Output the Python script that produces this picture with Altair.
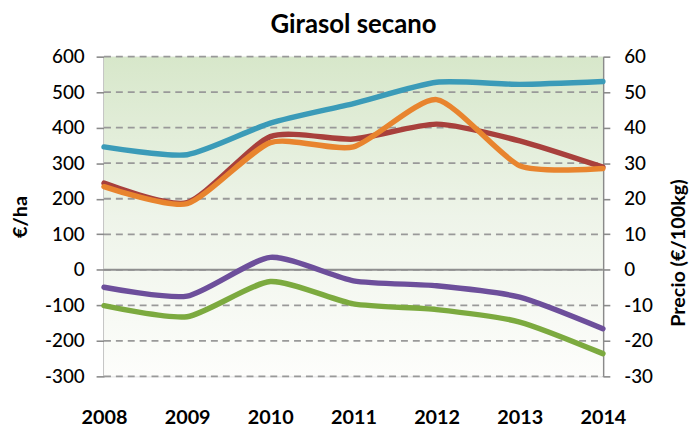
import altair as alt
import pandas as pd

years = [2008, 2009, 2010, 2011, 2012, 2013, 2014]
blue = [346, 324, 413, 468, 528, 522, 530]
red = [244, 189, 375, 368, 410, 363, 289]
orange = [234, 186, 358, 346, 479, 293, 285]
purple = [-49, -74, 35, -31, -45, -77, -166]
green = [-101, -132, -33, -96, -112, -147, -236]

series_names = ["azul", "rojo", "naranja", "morado", "verde"]
series_values = [blue, red, orange, purple, green]
series_colors = ["#3b9bb8", "#a8403c", "#e8842e", "#6d4f9b", "#7caa3f"]

left_ticks = [-300, -200, -100, 0, 100, 200, 300, 400, 500, 600]
right_ticks = [-30, -20, -10, 0, 10, 20, 30, 40, 50, 60]

W, H = 504, 323
FONT = "Lato"
MINUS = "replace(datum.label, '\u2212', '-')"

rows = []
for name, vals in zip(series_names, series_values):
    for y, v in zip(years, vals):
        rows.append({"serie": name, "year": y, "value": v})
df = pd.DataFrame(rows)

xscale = alt.Scale(domain=[2008, 2014], nice=False, zero=False)
yscale = alt.Scale(domain=[-300, 600], nice=False)

left_axis = alt.Axis(values=left_ticks, title="€/ha", grid=False,
                     domainColor="#8a8a8a", domainWidth=2,
                     tickColor="#8a8a8a", tickWidth=1.6, tickSize=8,
                     labelFont=FONT, labelFontSize=19, labelColor="#000",
                     labelFontWeight=500, labelPadding=12,
                     labelOverlap=False, labelFlush=False,
                     labelExpr=MINUS,
                     titleFont=FONT, titleFontSize=20,
                     titleFontWeight="bold", titleColor="#000",
                     titleAngle=270, titleBaseline="middle",
                     titleX=-84, titleY=H / 2)

bg = alt.Chart(pd.DataFrame({"a": [0]})).mark_rect(
    fill=alt.LinearGradient(
        gradient="linear",
        stops=[alt.GradientStop(color="#d7e7ca", offset=0),
               alt.GradientStop(color="#eef4e9", offset=0.5),
               alt.GradientStop(color="#fdfdfb", offset=1)],
        x1=0, x2=0, y1=0, y2=1,
    )
).encode(x=alt.value(0), x2=alt.value(W), y=alt.value(0), y2=alt.value(H))

grid = alt.Chart(pd.DataFrame({"value": left_ticks})).mark_rule(
    color="#999999", strokeWidth=1.8, strokeDash=[7, 5]
).encode(y=alt.Y("value:Q", scale=yscale, axis=left_axis),
         x=alt.value(0), x2=alt.value(W))

zero = alt.Chart(pd.DataFrame({"value": [0]})).mark_rule(
    color="#8f8f8f", strokeWidth=2
).encode(y=alt.Y("value:Q", scale=yscale, axis=left_axis),
         x=alt.value(0), x2=alt.value(W))

lines = alt.Chart(df).mark_line(
    strokeWidth=5.5, interpolate="cardinal", tension=0.35, strokeCap="round"
).encode(
    x=alt.X("year:Q", scale=xscale,
            axis=alt.Axis(values=years, format="d", title=None, domain=False,
                          ticks=False, grid=False, labelFont=FONT,
                          labelFontSize=20, labelFontWeight="bold",
                          labelColor="#000", labelPadding=32,
                          labelOverlap=False, labelFlush=False)),
    y=alt.Y("value:Q", scale=yscale, axis=left_axis),
    color=alt.Color("serie:N", scale=alt.Scale(domain=series_names,
                                                range=series_colors),
                    legend=None),
    detail="serie:N",
)

left = alt.layer(bg, grid, zero, lines)

right = alt.Chart(pd.DataFrame({"p": [-30, 60], "year": [2008, 2008]})).mark_point(
    opacity=0
).encode(
    x=alt.X("year:Q", scale=xscale),
    y=alt.Y("p:Q", scale=alt.Scale(domain=[-30, 60], nice=False),
            axis=alt.Axis(orient="right", values=right_ticks,
                          title="Precio (€/100kg)", grid=False,
                          domainColor="#8a8a8a", domainWidth=2,
                          tickColor="#8a8a8a", tickWidth=1.6, tickSize=7,
                          labelFont=FONT, labelFontSize=19, labelColor="#000",
                          labelFontWeight=500, labelPadding=14,
                          labelOverlap=False, labelFlush=False,
                          labelExpr=MINUS,
                          titleFont=FONT, titleFontSize=20,
                          titleFontWeight="bold", titleColor="#000",
                          titleAngle=270, titleBaseline="middle",
                          titleX=76, titleY=198)),
)

chart = alt.layer(left, right).resolve_scale(y="independent").properties(
    width=W, height=H,
    title=alt.TitleParams("Girasol secano", font=FONT, fontSize=26,
                          fontWeight="bold", color="#000", anchor="middle",
                          offset=10),
    autosize=alt.AutoSizeParams(type="none"),
    padding={"left": 97, "top": 47, "right": 88, "bottom": 50},
).configure_view(stroke=None).configure(background="white")

chart.save("out.html", embed_options={"renderer": "svg", "actions": False})
